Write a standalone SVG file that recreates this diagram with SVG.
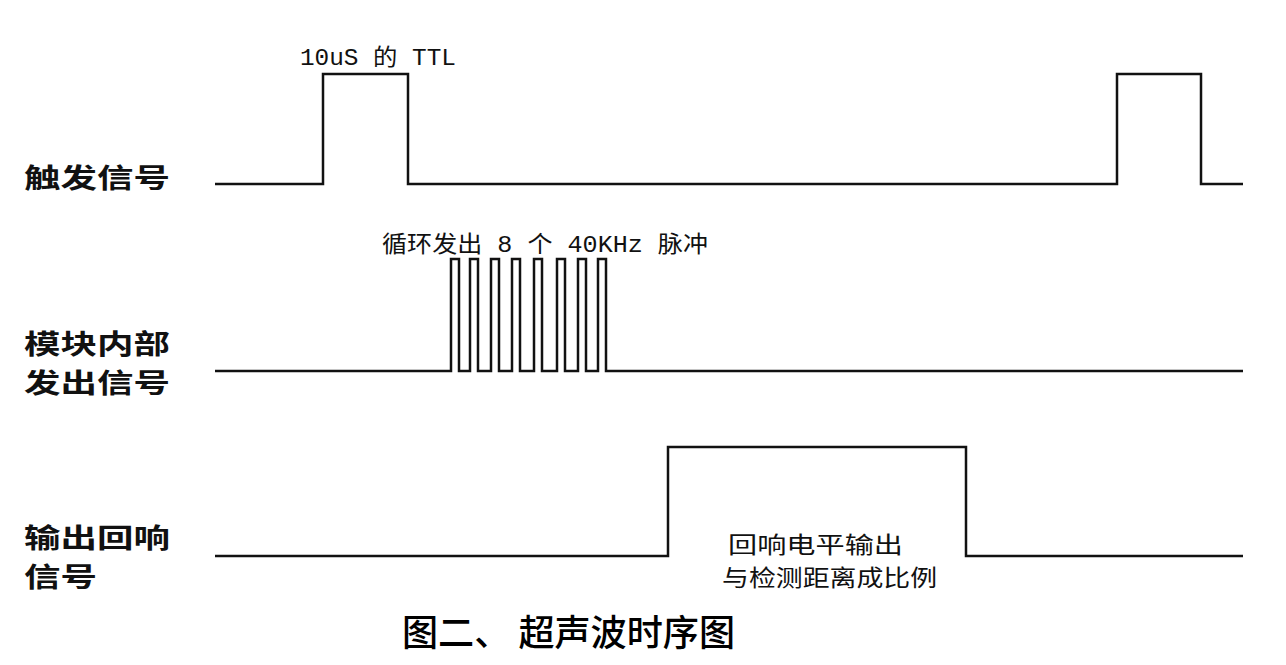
<svg xmlns="http://www.w3.org/2000/svg" width="1286" height="665" viewBox="0 0 1286 665">
<style>
.w{fill:none;stroke:#111;stroke-width:2.5}
.lb{font-family:"Noto Sans CJK SC",sans-serif;font-weight:bold;font-size:27px;fill:#111}
.sm{font-family:"Liberation Mono","Noto Sans CJK SC",monospace;font-size:23px;fill:#111}
.t{font-family:"Noto Sans CJK SC",sans-serif;font-weight:500;font-size:36px;fill:#000}
</style>
<rect width="1286" height="665" fill="#fff"/>
<g id="connectors">
<path class="w" d="M215 184H323V74H408V184H1117V74H1201V184H1243"/>
<path class="w" d="M215 371H451V259H459V371H470V259H478V371H491V259H499V371H512V259H520V371H534V259H542V371H557V259H565V371H578V259H586V371H598V259H606V371H1243"/>
<path class="w" d="M215 556H668V447H966V556H1243"/>
</g>
<g id="trigger"><text class="lb" x="24" y="188" textLength="146" lengthAdjust="spacingAndGlyphs">触发信号</text><text class="sm" x="300" y="65" textLength="156" lengthAdjust="spacingAndGlyphs">10uS 的 TTL</text></g>
<g id="emit"><text class="lb" x="24" y="354" textLength="146" lengthAdjust="spacingAndGlyphs">模块内部</text><text class="lb" x="24" y="393" textLength="146" lengthAdjust="spacingAndGlyphs">发出信号</text><text class="sm" x="382" y="252" textLength="326" lengthAdjust="spacingAndGlyphs">循环发出 8 个 40KHz 脉冲</text></g>
<g id="echo"><text class="lb" x="24" y="548" textLength="146" lengthAdjust="spacingAndGlyphs">输出回响</text><text class="lb" x="24" y="587" textLength="73" lengthAdjust="spacingAndGlyphs">信号</text><text class="sm" x="728" y="553" textLength="175" lengthAdjust="spacingAndGlyphs">回响电平输出</text><text class="sm" x="722" y="586" textLength="215" lengthAdjust="spacingAndGlyphs">与检测距离成比例</text></g>
<g id="title"><text class="t" x="402" y="646" textLength="333" lengthAdjust="spacingAndGlyphs">图二、 超声波时序图</text></g>
</svg>
